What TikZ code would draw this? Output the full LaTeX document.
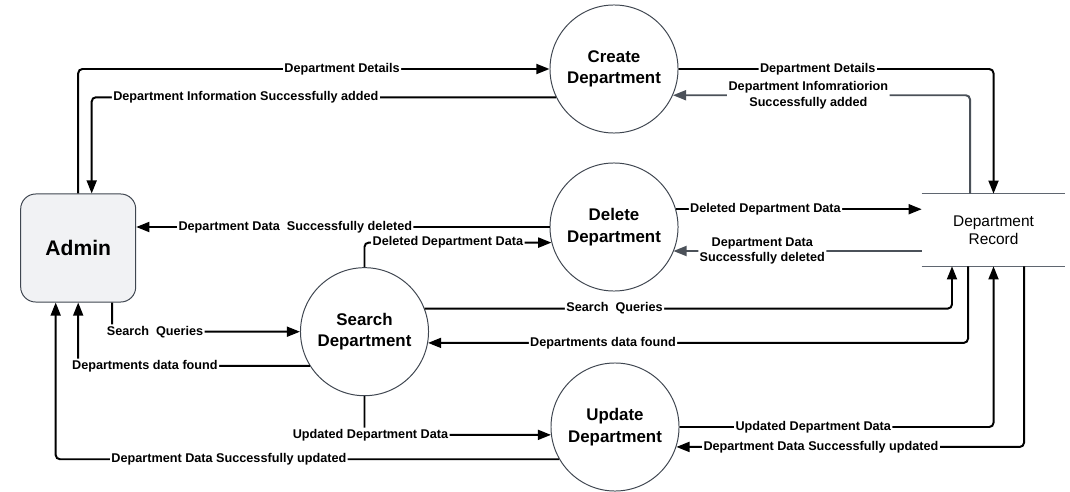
\documentclass[tikz,border=0pt]{standalone}
\usepackage{fontspec}
\setmainfont{Liberation Sans}
\usepackage{xcolor}
\usetikzlibrary{arrows.meta, positioning, calc}
\definecolor{edgegray}{HTML}{3F4650}
\definecolor{fillgray}{HTML}{F1F2F4}
\definecolor{flowgray}{HTML}{4B5159}
\definecolor{storegray}{HTML}{5F6670}
\tikzstyle{process} = [circle, draw=edgegray, line width=0.7pt, fill=white, minimum size=3.2cm, inner sep=0pt, align=center, font=\fontsize{12}{15.4}\selectfont\bfseries]
\tikzstyle{entity} = [rectangle, rounded corners=0.375cm, draw=edgegray, line width=0.7pt, fill=fillgray, minimum width=2.875cm, minimum height=2.7cm, font=\fontsize{15}{18}\selectfont\bfseries]
\tikzstyle{store} = [minimum width=3.575cm, minimum height=1.8cm, align=center, font=\fontsize{11}{13}\selectfont]
\tikzstyle{flow} = [line width=1.4pt, rounded corners=3pt, -{Triangle[length=3.3mm,width=2.5mm]}]
\tikzstyle{flowback} = [flow, draw=flowgray]
\tikzstyle{lbl} = [fill=white, inner sep=1pt, align=center, font=\fontsize{9}{11.3}\selectfont\bfseries]

\begin{document}
\begin{tikzpicture}[x=0.025cm, y=-0.025cm]
    \useasboundingbox (0,0) rectangle (1070,492);

    % Admin and the data store
    \node[entity] (adm) at (78.2,248) {Admin};
    \node[store] (rec) at (993.5,230) {Department\\Record};
    \draw[storegray, line width=1pt] (rec.north west) -- (rec.north east);
    \draw[storegray, line width=1pt] (rec.south west) -- (rec.south east);

    % Processes
    \node[process] (cre) at (614,69) {Create\\Department};
    \node[process] (del) at (614,227) {Delete\\Department};
    \node[process] (sea) at (364.5,331.7) {Search\\Department};
    \node[process] (upd) at (615,427) {Update\\Department};

    % Create flows
    \draw[flow] (adm.north) |- node[lbl, pos=0.78] {Department Details} (cre.west);
    \draw[flow] (cre.206) -| node[lbl, pos=0.334] {Department Information Successfully added} ($(adm.north)+(13.5,0)$);
    \draw[flow] (cre.east) -| node[lbl, pos=0.221] {Department Details} (rec.north);
    \draw[flowback] ($(rec.north)+(-23.5,0)$) |- node[lbl, pos=0.772] {Department Infomratiorion\\Successfully added} (cre.336);

    % Delete flows
    \draw[flow] (del.west) -- node[lbl, pos=0.615] {Department Data\ \ Successfully deleted} (del.west -| adm.east);
    \draw[flow] (sea.north) |- node[lbl, pos=0.723] {Deleted Department Data} (del.194);
    \draw[flow] (del.16) -- node[lbl, pos=0.364] {Deleted Department Data} (del.16 -| rec.west);
    \coordinate (recdel) at ($(rec.west)+(0,21)$);
    \draw[flowback] (recdel) -- node[lbl, pos=0.642] {Department Data\\Successfully deleted} (del.337 |- recdel);

    % Search flows
    \draw[flow] ($(adm.south)+(34,0)$) |- node[lbl, pos=0.614] {Search\ \ Queries} (sea.west);
    \draw[flow] (sea.212) -| node[lbl, pos=0.356] {Departments data found} (adm.south);
    \draw[flow] (sea.21) -| node[lbl, pos=0.18] {Search\ \ Queries} ($(rec.south)+(-41.5,0)$);
    \draw[flow] ($(rec.south)+(-25.5,0)$) |- node[lbl, pos=0.838] {Departments data found} (sea.350);

    % Update flows
    \draw[flow] (sea.south) |- node[lbl, pos=0.516] {Updated Department Data} (upd.187);
    \draw[flow] (upd.210) -| node[lbl, pos=0.328] {Department Data Successfully updated} ($(adm.south)+(-22.5,0)$);
    \draw[flow] (upd.east) -| node[lbl, pos=0.213] {Updated Department Data} (rec.south);
    \draw[flow] ($(rec.south)+(30.5,0)$) |- node[lbl, pos=0.792] {Department Data Successfully updated} (upd.342);
\end{tikzpicture}
\end{document}
